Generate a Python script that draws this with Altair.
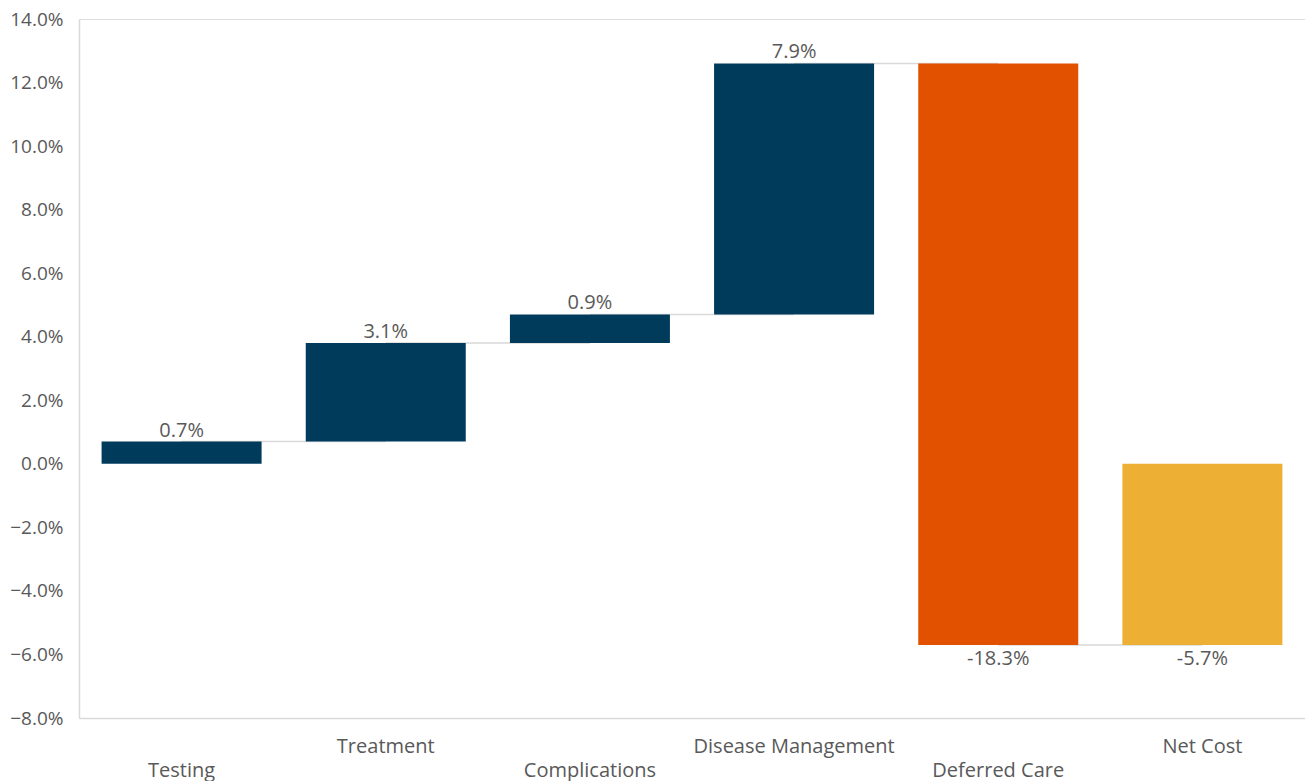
import altair as alt
import pandas as pd

categories = ["Testing", "Treatment", "Complications", "Disease Management", "Deferred Care", "Net Cost"]
values = [0.7, 3.1, 0.9, 7.9, -18.3, -5.7]
kinds = ["up", "up", "up", "up", "down", "total"]
lower_row = ["Testing", "Complications", "Deferred Care"]

rows = []
level = 0.0
for c, v, k in zip(categories, values, kinds):
    if k == "total":
        start, end = 0.0, v
    else:
        start, end = level, level + v
        level = end
    rows.append({"cat": c, "start": start, "end": end, "value": v, "kind": k,
                 "label": f"{v:.1f}%", "lab_y": max(start, end) if v > 0 else min(start, end),
                 "pos": "above" if v > 0 else "below"})
df = pd.DataFrame(rows)

conn = []
for i in range(len(categories) - 1):
    conn.append({"cat": categories[i], "next": categories[i + 1], "lvl": rows[i]["end"]})
cdf = pd.DataFrame(conn)

FONT = "Open Sans"
GREY = "#595959"

x = alt.X("cat:N", sort=categories, title=None,
          scale=alt.Scale(paddingInner=0.215, paddingOuter=0.11),
          axis=alt.Axis(labelAngle=0, ticks=False, domainColor="#d9d9d9", domainWidth=1.5,
                        labelFont=FONT, labelFontSize=20, labelColor=GREY, labelPadding=28,
                        labelLineHeight=24, labelBaseline="middle", labelAlign="center",
                        labelLimit=400, labelOverlap=False,
                        labelExpr="indexof(['" + "','".join(lower_row) + "'], datum.value) >= 0 ? ['', datum.value] : [datum.value, '']"))

yscale = alt.Scale(domain=[-8, 14], nice=False, zero=False)

rules = alt.Chart(cdf).mark_rule(color="#d9d9d9", strokeWidth=1.5).encode(
    x=alt.X("cat:N", sort=categories, bandPosition=0.5),
    x2=alt.X2("next:N", bandPosition=0.5),
    y=alt.Y("lvl:Q", scale=yscale),
)

bars = alt.Chart(df).mark_bar(size=160).encode(
    x=x,
    y=alt.Y("start:Q", scale=yscale, title=None,
            axis=alt.Axis(values=list(range(-8, 15, 2)), grid=False, ticks=False,
                          domainColor="#d9d9d9", domainWidth=1.5, labelPadding=16,
                          labelFont=FONT, labelFontSize=19, labelColor=GREY,
                          labelExpr="format(datum.value, '.1f') + '%'")),
    y2="end:Q",
    color=alt.Color("kind:N", legend=None,
                    scale=alt.Scale(domain=["up", "down", "total"],
                                    range=["#013b5c", "#e15100", "#edb034"])),
)

above = alt.Chart(df[df["pos"] == "above"]).mark_text(
    font=FONT, fontSize=20, color=GREY, baseline="bottom", dy=-1).encode(
    x=alt.X("cat:N", sort=categories), y=alt.Y("lab_y:Q", scale=yscale), text="label:N")
below = alt.Chart(df[df["pos"] == "below"]).mark_text(
    font=FONT, fontSize=20, color=GREY, baseline="top", dy=4).encode(
    x=alt.X("cat:N", sort=categories), y=alt.Y("lab_y:Q", scale=yscale), text="label:N")

chart = alt.layer(rules, bars, above, below).properties(
    width=1226, height=699,
    autosize=alt.AutoSizeParams(type="none"),
    padding={"left": 79, "top": 19, "right": 0, "bottom": 63},
).configure_view(stroke=None).configure(background="white")

chart.save("out.html", embed_options={"renderer": "svg", "actions": False})
